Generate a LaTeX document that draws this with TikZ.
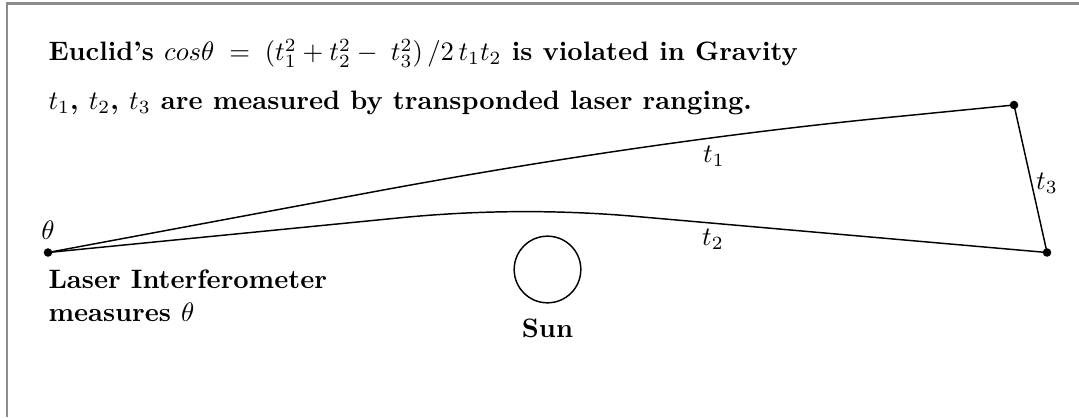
\documentclass[tikz,border=0pt]{standalone}
\usetikzlibrary{calc}
\begin{document}
\begin{tikzpicture}[x=0.375pt,y=-0.375pt,
  dot/.style={circle,fill=black,inner sep=0pt,minimum size=3.2pt},
  txt/.style={anchor=base west,inner sep=0pt,font=\bfseries},
  lbl/.style={inner sep=0pt},
  ray/.style={line width=0.55pt},
  frame/.style={line width=0.8pt,draw={rgb,255:red,140;green,140;blue,140}}]
\useasboundingbox (0,0) rectangle (1079,417);
\draw[frame] (7,417) -- (7,3.5) -- (1079,3.5);
% text
\node[txt] (title1) at (48,61) {Euclid's $cos\theta\;=\;(t_1^2+t_2^2-\;t_3^2)\,/2\,t_1t_2$ is violated in Gravity};
\node[txt] (title2) at (48,110) {$t_1$, $t_2$, $t_3$ are measured by transponded laser ranging.};
% points
\node[dot] (O) at (48,252.5) {};
\node[dot] (A) at (1014,105) {};
\node[dot] (B) at (1047,252.5) {};
% sun
\node[circle,draw,line width=0.55pt,minimum size=25pt,inner sep=0pt] (sun) at (547.5,269.5) {};
\node[lbl,anchor=base] (sunlbl) at (547.5,337) {\bfseries Sun};
% rays
\coordinate (u1) at (380,190.6);
\coordinate (u2) at (900,116.3);
\draw[ray] (O.center) -- (u1) .. controls (562.7,156.9) and (736,132.1) .. (u2) -- (A.center);
\coordinate (l1) at (400,217.8);
\coordinate (l2) at (640,216.8);
\draw[ray] (O.center) -- (l1) .. controls (480.7,209.9) and (560.7,209.6) .. (l2) -- (B.center);
\draw[ray] (A.center) -- (B.center);
% labels
\node[lbl] (t1) at (714,156) {$t_1$};
\node[lbl] (t2) at (713,239) {$t_2$};
\node[lbl] (t3) at (1047,183) {$t_3$};
\node[lbl] (th) at (48,230) {$\theta$};
\node[txt] (li1) at (48,288) {Laser Interferometer};
\node[txt] (li2) at (48,321) {measures $\theta$};
\end{tikzpicture}
\end{document}
